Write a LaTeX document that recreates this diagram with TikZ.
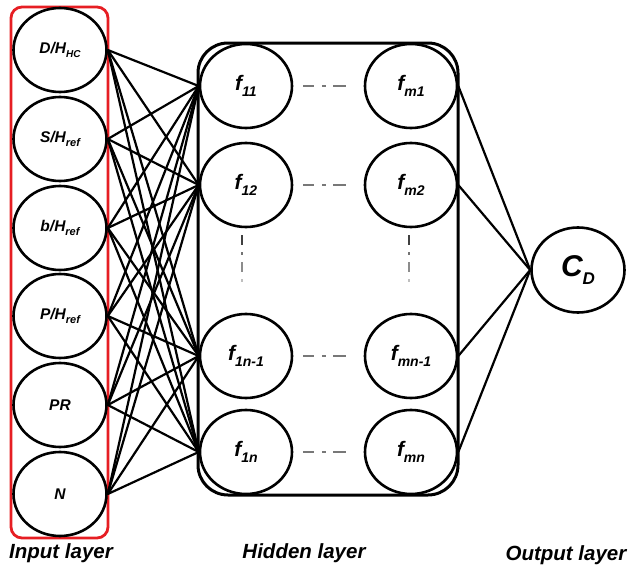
\documentclass[tikz,border=0pt]{standalone}
\usepackage{fontspec}
\setmainfont{Liberation Sans}
\usetikzlibrary{shapes.geometric}
\definecolor{boxred}{RGB}{230,30,35}
\definecolor{dotgray}{RGB}{120,120,120}
% lowered index in a smaller bold italic face
\newcommand{\lowidx}[2]{\raisebox{-0.5ex}{\fontsize{#1}{#1}\selectfont #2}}
\begin{document}
\begin{tikzpicture}[x=1pt,y=-1pt,
  neuron/.style={ellipse, draw, line width=2.6pt, inner sep=0pt,
    minimum width=93pt, minimum height=84pt,
    font=\bfseries\itshape},
  inlbl/.style={font=\fontsize{15.5}{15.5}\selectfont\bfseries\itshape},
  hidlbl/.style={font=\fontsize{21}{21}\selectfont\bfseries\itshape},
  link/.style={line width=2.2pt},
  skip/.style={dotgray, line width=2pt, dash pattern=on 11pt off 8pt on 4pt off 7pt on 13pt},
  layername/.style={font=\fontsize{20.5}{20.5}\selectfont\bfseries\itshape}]
\useasboundingbox (0,0) rectangle (633,570);

% input layer
\draw[boxred, line width=2.8pt, rounded corners=11pt] (11,7) rectangle (108,538);
\node[neuron, inlbl] (i1) at (60,50)  {D/H\lowidx{10}{HC}};
\node[neuron, inlbl] (i2) at (60,139) {S/H\lowidx{11}{ref}};
\node[neuron, inlbl] (i3) at (60,228) {b/H\lowidx{11}{ref}};
\node[neuron, inlbl] (i4) at (60,316) {P/H\lowidx{11}{ref}};
\node[neuron, inlbl] (i5) at (60,405) {PR};
\node[neuron, inlbl] (i6) at (60,494) {N};

% hidden layer
\draw[line width=3pt, rounded corners=30pt] (198,43) rectangle (458,495);
\node[neuron, hidlbl, minimum width=92pt] (h11) at (246,86)  {f\lowidx{14}{11}};
\node[neuron, hidlbl, minimum width=92pt] (h12) at (246,185) {f\lowidx{14}{12}};
\node[neuron, hidlbl, minimum width=92pt] (h1a) at (246,356) {f\lowidx{14}{1n-1}};
\node[neuron, hidlbl, minimum width=92pt] (h1b) at (246,452) {f\lowidx{14}{1n}};
\node[neuron, hidlbl, minimum width=92pt] (hm1) at (411,86)  {f\lowidx{14}{m1}};
\node[neuron, hidlbl, minimum width=92pt] (hm2) at (411,185) {f\lowidx{14}{m2}};
\node[neuron, hidlbl, minimum width=92pt] (hma) at (411,356) {f\lowidx{14}{mn-1}};
\node[neuron, hidlbl, minimum width=92pt] (hmb) at (411,452) {f\lowidx{14}{mn}};

% output layer
\node[neuron, minimum width=93pt, minimum height=85pt,
  font=\fontsize{30}{30}\selectfont\bfseries\itshape] (out) at (578,270) {C\lowidx{17}{D}};

% elided neurons between the shown ones
\foreach \r in {86,185,356,452}
  \draw[skip] (303,\r) -- (352,\r);
\foreach \x in {242,409} {
  \draw[black!75, line width=2pt] (\x,235) -- (\x,245);
  \draw[black!55, line width=2pt] (\x,252) -- (\x,255);
  \draw[black!45, line width=2pt] (\x,262) -- (\x,272);
  \draw[black!25, line width=2pt] (\x,279) -- (\x,282);
}

% fully connected input -> first hidden column
\foreach \i in {i1,i2,i3,i4,i5,i6}
  \foreach \h in {h11,h12,h1a,h1b}
    \draw[link] (\i.east) -- (\h.west);

% last hidden column -> output
\foreach \h in {hm1,hm2,hma,hmb}
  \draw[link] (\h.east) -- (out.west);

% layer captions
\node[layername] (capin)  at (61,553)  {Input layer};
\node[layername] (caphid) at (304,553) {Hidden layer};
\node[layername] (capout) at (566,555) {Output layer};
\end{tikzpicture}
\end{document}
